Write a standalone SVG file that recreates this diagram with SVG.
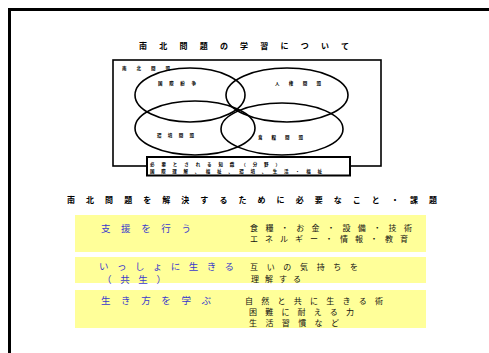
<svg xmlns="http://www.w3.org/2000/svg" width="489" height="353" viewBox="0 0 489 353">
<style>
.t{font-family:"Noto Sans CJK JP","Noto Sans",sans-serif;fill:#000;font-weight:bold}
.h{font-size:8px}
.s{font-size:4.5px}
.b{font-family:"Noto Sans CJK JP","Noto Sans",sans-serif;fill:#3a3acc;font-size:9.5px}
.r{font-family:"Noto Sans CJK JP","Noto Sans",sans-serif;fill:#111;font-size:8px}
.e{fill:none;stroke:#000;stroke-width:1.6}
.y{fill:#ffff99}
</style>
<rect width="489" height="353" fill="#fff"/>
<path d="M9.5,353 V9.5 H489" fill="none" stroke="#000" stroke-width="3"/>
<g id="title"><text class="t h" x="139" y="49" textLength="210" lengthAdjust="spacing">南北問題の学習について</text></g>
<g id="frame">
<rect x="113" y="60" width="268" height="106" fill="none" stroke="#000" stroke-width="1.6"/>
<text class="t s" x="122" y="70" textLength="48" lengthAdjust="spacing">南北問題</text>
</g>
<g id="ellipse-tl"><ellipse class="e" cx="190" cy="95" rx="55" ry="27"/><text class="t s" x="158" y="85" textLength="38" lengthAdjust="spacing">国際紛争</text></g>
<g id="ellipse-tr"><ellipse class="e" cx="287" cy="95" rx="61" ry="27"/><text class="t s" x="275" y="85" textLength="46" lengthAdjust="spacing">人権問題</text></g>
<g id="ellipse-bl"><ellipse class="e" cx="195" cy="128" rx="60" ry="27"/><text class="t s" x="157" y="137" textLength="37" lengthAdjust="spacing">環境問題</text></g>
<g id="ellipse-br"><ellipse class="e" cx="282" cy="129" rx="61" ry="26"/><text class="t s" x="258" y="139" textLength="45" lengthAdjust="spacing">食糧問題</text></g>
<g id="knowledge">
<rect x="147" y="157" width="203" height="18.5" fill="#fff" stroke="#000" stroke-width="2"/>
<text class="t s" x="150" y="165.5" textLength="130" lengthAdjust="spacing">必要とされる知識（分野）</text>
<text class="t s" x="150" y="173" textLength="172" lengthAdjust="spacing">国際理解、福祉、環境、生活・福祉</text>
</g>
<g id="heading"><text class="t h" x="67" y="203" textLength="370" lengthAdjust="spacing">南北問題を解決するために必要なこと・課題</text></g>
<g id="row1">
<rect class="y" x="75" y="215" width="351" height="37"/>
<text class="b" x="101" y="231.5" textLength="90" lengthAdjust="spacing">支援を行う</text>
<text class="r" x="250" y="231" textLength="162" lengthAdjust="spacing">食糧・お金・設備・技術</text>
<text class="r" x="250" y="242" textLength="158" lengthAdjust="spacing">エネルギー・情報・教育</text>
</g>
<g id="row2">
<rect class="y" x="75" y="257" width="351" height="26"/>
<text class="b" x="99" y="269.5" textLength="135" lengthAdjust="spacing">いっしょに生きる</text>
<text class="b" x="102" y="283" textLength="64" lengthAdjust="spacing">（共生）</text>
<text class="r" x="250" y="270" textLength="108" lengthAdjust="spacing">互いの気持ちを</text>
<text class="r" x="251" y="282" textLength="50" lengthAdjust="spacing">理解する</text>
</g>
<g id="row3">
<rect class="y" x="75" y="290" width="351" height="38"/>
<text class="b" x="101" y="303.5" textLength="110" lengthAdjust="spacing">生き方を学ぶ</text>
<text class="r" x="245" y="304" textLength="138" lengthAdjust="spacing">自然と共に生きる術</text>
<text class="r" x="249" y="315" textLength="105" lengthAdjust="spacing">困難に耐える力</text>
<text class="r" x="249" y="325.5" textLength="90" lengthAdjust="spacing">生活習慣など</text>
</g>
</svg>
